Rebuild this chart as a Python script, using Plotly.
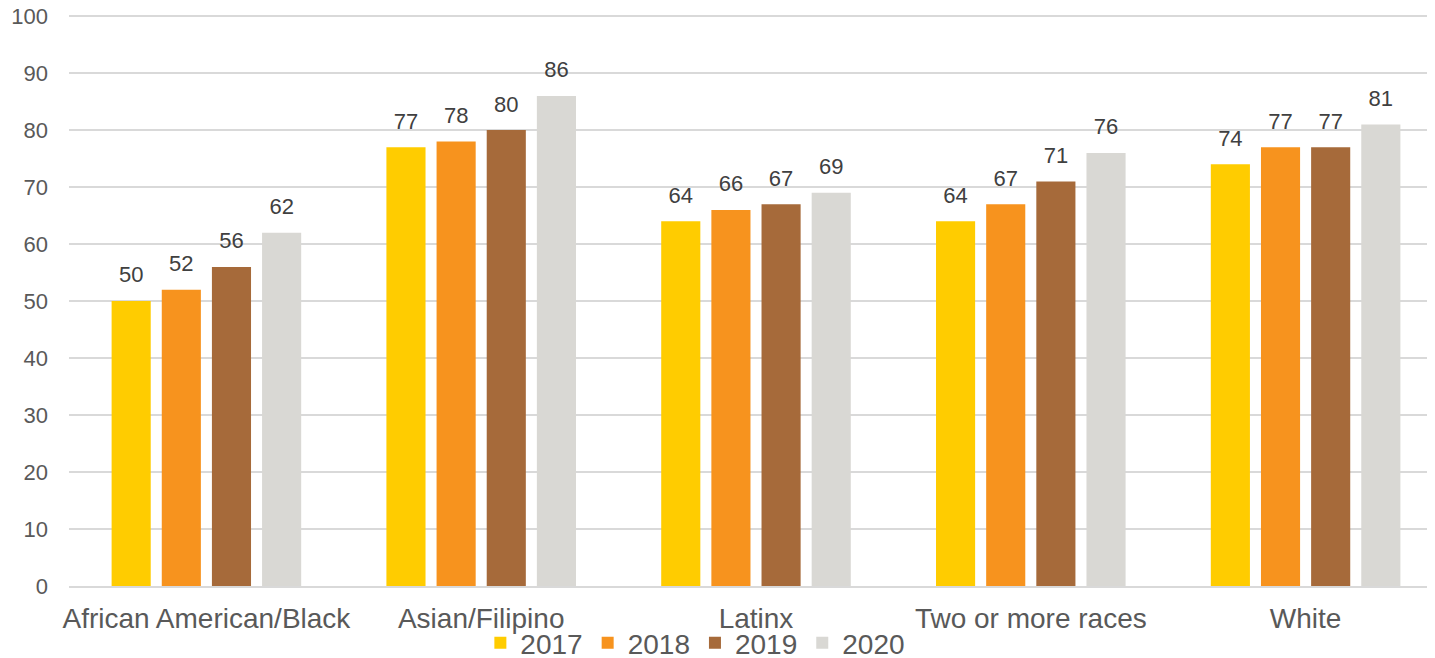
import plotly.graph_objects as go

categories = ["African American/Black", "Asian/Filipino", "Latinx", "Two or more races", "White"]
years = ["2017", "2018", "2019", "2020"]
values_2017 = [50, 77, 64, 64, 74]
values_2018 = [52, 78, 66, 67, 77]
values_2019 = [56, 80, 67, 71, 77]
values_2020 = [62, 86, 69, 76, 81]
series = [values_2017, values_2018, values_2019, values_2020]
colors = ["#FFCC00", "#F7931E", "#A66A3A", "#D9D8D4"]
y_ticks = list(range(0, 101, 10))

fig = go.Figure()
for yr, vals, col in zip(years, series, colors):
    fig.add_trace(go.Bar(
        name=yr, x=categories, y=vals, marker=dict(color=col, line=dict(width=0)),
        text=vals,
        texttemplate="<span style='font-size:22px'>%{y}</span><br><span style='font-size:1px'> </span>",
        textposition="outside", cliponaxis=False,
        textfont=dict(size=12, color="#404040", family="Liberation Sans, Arial"),
    ))

fig.update_layout(
    barmode="group", bargap=0.27, bargroupgap=0.22,
    width=1435, height=658,
    margin=dict(l=61, r=0, t=7, b=80, autoexpand=False),
    plot_bgcolor="white", paper_bgcolor="white",
    font=dict(family="Liberation Sans, Arial", color="#595959"),
    showlegend=True,
    legend=dict(orientation="h", xref="container", yref="container",
                x=0.479, xanchor="center", y=0.035, yanchor="middle",
                bgcolor="rgba(0,0,0,0)",
                font=dict(size=28, color="#595959"), traceorder="normal",
                itemwidth=30, itemsizing="constant"),
    xaxis=dict(range=[-0.5, 4.5], tickfont=dict(size=28, color="#595959"),
               showline=True, linecolor="#D9D9D9", linewidth=2, ticks="", showgrid=False,
               automargin=False, ticklabelstandoff=6),
    yaxis=dict(range=[0, 100.2], tickvals=y_ticks, tickfont=dict(size=22, color="#595959"),
               showgrid=True, gridcolor="#D9D9D9", gridwidth=2, zeroline=False,
               ticks="", ticklen=0, showline=False, automargin=False,
               ticklabelstandoff=20, ticklabeloverflow="allow"),
)

fig.write_html("out.html")
